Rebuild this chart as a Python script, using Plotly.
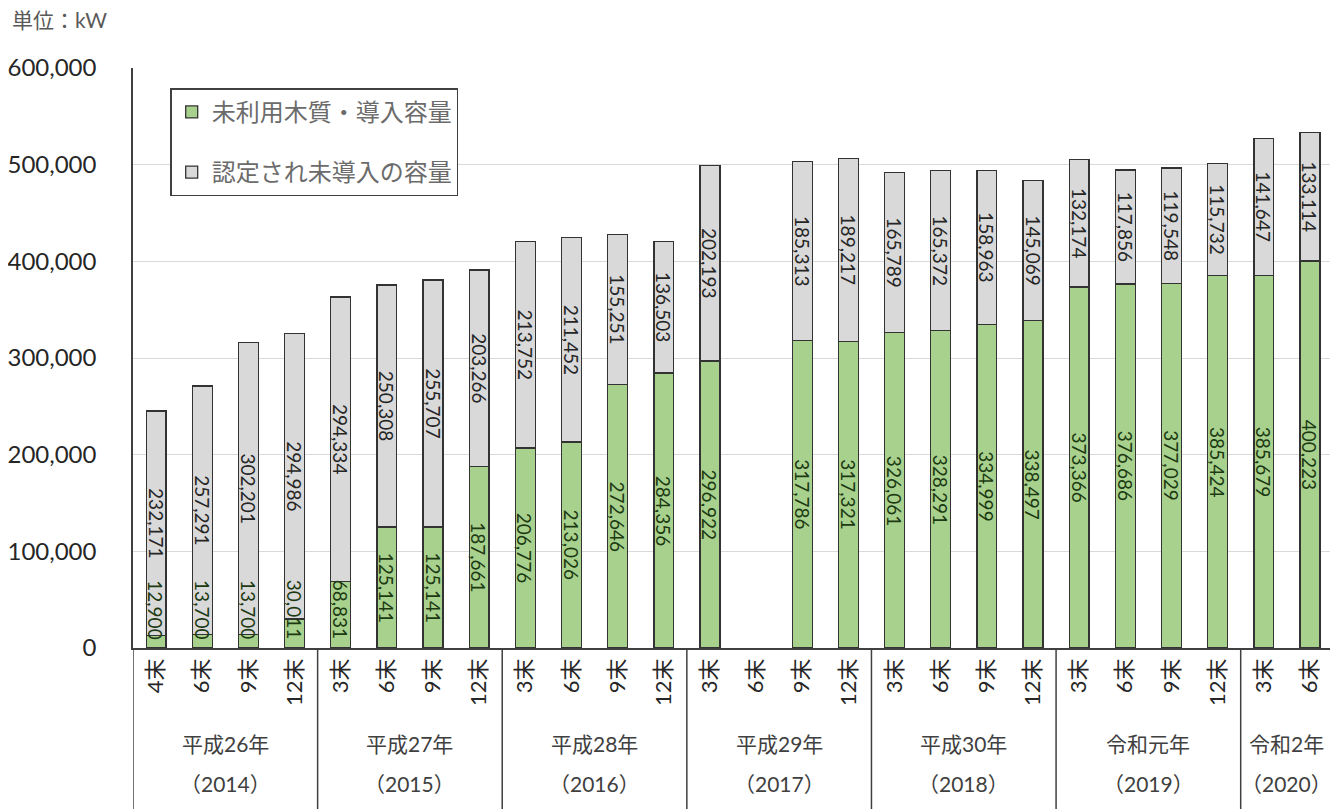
import plotly.graph_objects as go

# ---- data ----
months = ["4末", "6末", "9末", "12末",
          "3末", "6末", "9末", "12末",
          "3末", "6末", "9末", "12末",
          "3末", "6末", "9末", "12末",
          "3末", "6末", "9末", "12末",
          "3末", "6末", "9末", "12末",
          "3末", "6末"]
group_names = ["平成26年", "平成27年", "平成28年", "平成29年", "平成30年", "令和元年", "令和2年"]
group_years = ["（2014）", "（2015）", "（2016）", "（2017）", "（2018）", "（2019）", "（2020）"]
group_sizes = [4, 4, 4, 4, 4, 4, 2]

installed = [12900, 13700, 13700, 30011,
             68831, 125141, 125141, 187661,
             206776, 213026, 272646, 284356,
             296922, None, 317786, 317321,
             326061, 328291, 334999, 338497,
             373366, 376686, 377029, 385424,
             385679, 400223]
pending = [232171, 257291, 302201, 294986,
           294334, 250308, 255707, 203266,
           213752, 211452, 155251, 136503,
           202193, None, 185313, 189217,
           165789, 165372, 158963, 145069,
           132174, 117856, 119548, 115732,
           141647, 133114]

name_installed = "未利用木質・導入容量"
name_pending = "認定され未導入の容量"

# ---- style ----
FONT = "Lato, 'Noto Sans CJK JP', sans-serif"
GREEN = "#a9d18e"
GRAY = "#d9d9d9"
EDGE = "#333333"
TXT = "#404040"

x = list(range(len(months)))

fig = go.Figure()
fig.add_trace(go.Bar(
    x=x, y=installed, name=name_installed, legendgroup="a",
    marker=dict(color=GREEN, line=dict(color=EDGE, width=1.3)),
    hoverinfo="skip",
))
fig.add_trace(go.Bar(
    x=x, y=pending, name=name_pending, legendgroup="b",
    marker=dict(color=GRAY, line=dict(color=EDGE, width=1.3)),
    texttemplate="%{y:,}", textposition="inside", insidetextanchor="middle",
    textangle=90, constraintext="none",
    textfont=dict(family=FONT, size=19, color="#262626"),
    hoverinfo="skip",
))

# green segment labels (kept inside the plot for the small segments)
annotations = []
for xi, v in zip(x, installed):
    if v is None:
        continue
    annotations.append(dict(
        x=xi, y=max(v / 2, 40000), xref="x", yref="y",
        text=f"{v:,}", showarrow=False, textangle=90,
        font=dict(family=FONT, size=19, color="#1c3a12"),
    ))

# group labels and separators
shapes = []
start = 0
boundaries = [-0.5]
for name, yr, n in zip(group_names, group_years, group_sizes):
    center = start + (n - 1) / 2
    annotations.append(dict(x=center, y=-0.19, xref="x", yref="paper", text=name,
                            showarrow=False, font=dict(family=FONT, size=21, color=TXT)))
    annotations.append(dict(x=center, y=-0.259, xref="x", yref="paper", text=yr,
                            showarrow=False, font=dict(family=FONT, size=21, color=TXT)))
    start += n
    boundaries.append(start - 0.5)
for b in boundaries:
    shapes.append(dict(type="line", xref="x", yref="paper", x0=b, x1=b, y0=0, y1=-0.35,
                       line=dict(color="#404040", width=1.5)))

annotations.append(dict(x=-0.1025, y=1.083, xref="paper", yref="paper", text="単位：kW",
                        showarrow=False, xanchor="left", yanchor="middle",
                        font=dict(family=FONT, size=21, color="#595959")))

fig.update_layout(
    width=1330, height=801,
    margin=dict(l=125, r=5, t=60, b=161),
    barmode="stack", bargap=0.57,
    plot_bgcolor="white", paper_bgcolor="white",
    font=dict(family=FONT, color=TXT),
    showlegend=True,
    legend=dict(x=0.031, y=0.965, xanchor="left", yanchor="top",
                bgcolor="white", bordercolor="#404040", borderwidth=1.5,
                traceorder="grouped", tracegroupgap=26,
                font=dict(family=FONT, size=24, color="#6b6b6b")),
    xaxis=dict(range=[-0.5, len(months) - 0.5], tickmode="array", tickvals=x, ticktext=months,
               tickangle=-90, tickfont=dict(family=FONT, size=22, color="#262626"),
               showline=True, linecolor="#404040", linewidth=1.5, ticks="", showgrid=False,
               zeroline=False, automargin=False),
    yaxis=dict(range=[0, 600000], dtick=100000, tickformat=",",
               tickfont=dict(family=FONT, size=24, color="#262626"),
               showline=True, linecolor="#404040", linewidth=1.5,
               showgrid=True, gridcolor="#d9d9d9", gridwidth=1,
               zeroline=False, ticklabelstandoff=30, automargin=False),
    annotations=annotations,
    shapes=shapes,
)

fig.write_html("out.html")
